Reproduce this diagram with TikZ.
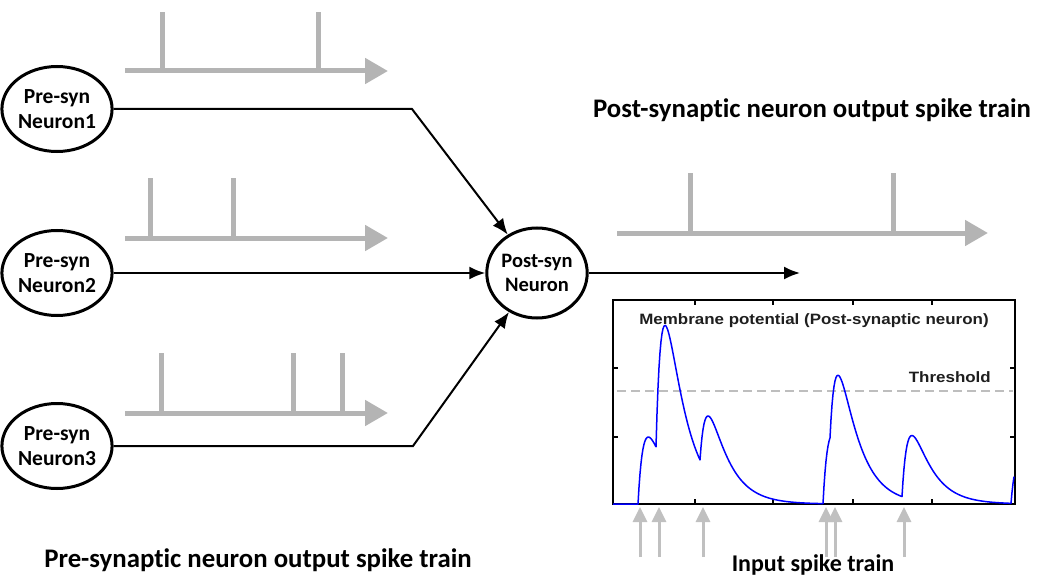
\documentclass[tikz,border=0pt]{standalone}
\usepackage{fontspec}
\setmainfont{Carlito}[Ligatures=NoCommon]
\newfontfamily\plotfont{Liberation Sans}
\usetikzlibrary{arrows.meta,shapes.geometric}

\definecolor{spikegray}{RGB}{180,180,180}
\definecolor{inputgray}{RGB}{192,192,192}
\definecolor{threshgray}{RGB}{190,190,190}
\definecolor{labelink}{RGB}{30,30,30}

\begin{document}
\begin{tikzpicture}[x=1pt,y=-1pt,
  neuron/.style={draw, ellipse, line width=3pt, minimum width=94pt, minimum height=85pt,
    inner sep=0pt, align=center, font=\bfseries\fontsize{21.5}{25}\selectfont},
  synapse/.style={line width=2pt, -{Latex[length=16pt,width=13pt]}},
  baseline/.style={line width=5pt, spikegray, -{Triangle[length=23pt,width=25pt]}},
  spikeline/.style={line width=5pt, spikegray},
  caption/.style={font=\bfseries\fontsize{26.8}{30}\selectfont, inner sep=0pt},
  plotlabel/.style={font=\plotfont\bfseries\fontsize{15}{18}\selectfont, text=labelink, inner sep=0pt},
  inputspike/.style={line width=3pt, inputgray, -{Triangle[length=15pt,width=14pt]}},
  declare function={
    psp(\s)=(exp(-max(\s,0)/20)-exp(-max(\s,0)/6))/0.418;
  }]
\useasboundingbox (0,0) rectangle (1037,578);

% neurons
\node[neuron] (n1) at (57,109) {Pre-syn\\Neuron1};
\node[neuron] (n2) at (57,273) {Pre-syn\\Neuron2};
\node[neuron] (n3) at (57,446) {Pre-syn\\Neuron3};
\node[neuron, minimum width=92pt, minimum height=90pt, font=\bfseries\fontsize{20.5}{24}\selectfont]
  (post) at (537,273) {Post-syn\\Neuron};

% synaptic connections
\coordinate (c1) at (412,109);
\coordinate (c3) at (413,446);
\coordinate (out) at (800,273);
\draw[synapse] (n1) -- (c1) -- (post);
\draw[synapse] (n2) -- (post);
\draw[synapse] (n3) -- (c3) -- (post);
\draw[synapse] (post) -- (out);

% pre-synaptic spike trains
\foreach \x in {162,318} \draw[spikeline] (\x,71) -- (\x,12);
\draw[baseline] (125,71) -- (388,71);
\foreach \x in {150,233} \draw[spikeline] (\x,238) -- (\x,178);
\draw[baseline] (125,238) -- (388,238);
\foreach \x in {161,293,342} \draw[spikeline] (\x,413) -- (\x,353);
\draw[baseline] (125,413) -- (388,413);

% post-synaptic spike train
\foreach \x in {690,893} \draw[spikeline] (\x,233) -- (\x,173);
\draw[baseline] (617,233) -- (988,233);

% membrane potential plot
\draw[line width=2.2pt] (613,300) rectangle (1015,504);
\foreach \x in {695,773,853,932} {
  \draw[line width=1.2pt] (\x,504) -- (\x,499);
  \draw[line width=1.2pt] (\x,300) -- (\x,305);
}
\foreach \y in {368,437} {
  \draw[line width=1.2pt] (613,\y) -- (618,\y);
  \draw[line width=1.2pt] (1015,\y) -- (1010,\y);
}
\draw[threshgray, line width=2pt, dash pattern=on 9pt off 5pt] (617,391) -- (1013,391);
\draw[blue, line width=1.5pt, line join=round]
  plot[domain=613:1014, samples=402, variable=\t]
  (\t, {504 - (67*psp(\t-638) + 140*psp(\t-656) + 60*psp(\t-700)
     + 70*psp(\t-823) + 65*psp(\t-830) + 64*psp(\t-902) + 44*psp(\t-1011))});
\node[plotlabel] (mlabel) at (814,321) {\scalebox{1.13}[1]{Membrane potential (Post-synaptic neuron)}};
\node[plotlabel, anchor=east] (tlabel) at (991,377) {\scalebox{1.13}[1]{Threshold}};

% input spikes under the plot
\foreach \x in {640,659,703,826,835,904} \draw[inputspike] (\x,557) -- (\x,507);

% captions
\node[caption] (posttitle) at (812,110) {Post-synaptic neuron output spike train};
\node[caption] (pretitle) at (258,560) {Pre-synaptic neuron output spike train};
\node[caption, font=\bfseries\fontsize{24}{28}\selectfont] (inputtitle) at (813,565) {Input spike train};
\end{tikzpicture}
\end{document}
